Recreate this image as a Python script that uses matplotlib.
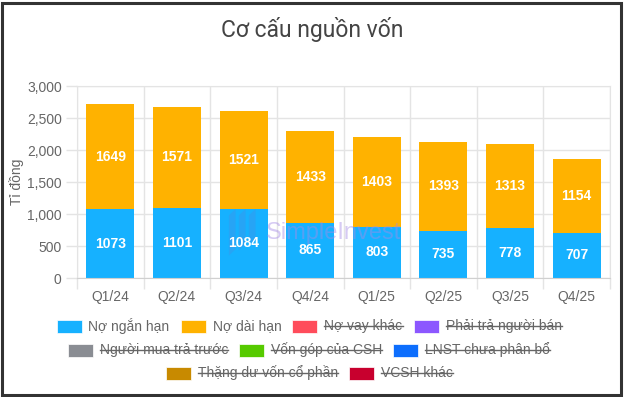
import numpy as np
import matplotlib
matplotlib.use('Agg')
import matplotlib.pyplot as plt
from matplotlib.patches import Rectangle, Polygon

# data
quarters = ['Q1/24', 'Q2/24', 'Q3/24', 'Q4/24', 'Q1/25', 'Q2/25', 'Q3/25', 'Q4/25']
no_ngan_han = [1073, 1101, 1084, 865, 803, 735, 778, 707]
no_dai_han = [1649, 1571, 1521, 1433, 1403, 1393, 1313, 1154]

legend_rows = [
    [('Nợ ngắn hạn', '#16b1ff', False), ('Nợ dài hạn', '#ffb200', False),
     ('Nợ vay khác', '#ff4c5b', True), ('Phải trả người bán', '#8c57ff', True)],
    [('Người mua trả trước', '#8a8d93', True), ('Vốn góp của CSH', '#56ca00', True),
     ('LNST chưa phân bổ', '#0d6efd', True)],
    [('Thặng dư vốn cổ phần', '#c88a00', True), ('VCSH khác', '#c8002e', True)],
]

plt.rcParams['font.family'] = ['Liberation Sans', 'DejaVu Sans']
W, H = 624, 397
fig = plt.figure(figsize=(W / 100, H / 100), dpi=100)

ax = fig.add_axes([77 / W, 1 - 278 / H, (610 - 77) / W, (278 - 86) / H])
x = np.arange(len(quarters))
bw = 0.72
ax.bar(x, no_ngan_han, bw, color='#16b1ff', zorder=2)
ax.bar(x, no_dai_han, bw, bottom=no_ngan_han, color='#ffb200', zorder=2)

for i in range(len(quarters)):
    ax.text(x[i], no_ngan_han[i] / 2, str(no_ngan_han[i]), ha='center', va='center',
            color='white', fontsize=10, fontweight='bold', zorder=4)
    ax.text(x[i], no_ngan_han[i] + no_dai_han[i] / 2, str(no_dai_han[i]), ha='center',
            va='center', color='white', fontsize=10, fontweight='bold', zorder=4)

ax.set_xlim(-0.5, len(quarters) - 0.5)
ax.set_ylim(0, 3000)
ax.set_yticks(np.arange(0, 3001, 500))
ax.set_yticklabels(['{:,}'.format(v) for v in range(0, 3001, 500)])
ax.set_xticks(x)
ax.set_xticklabels(quarters)
ax.set_xticks(np.arange(-0.5, len(quarters)), minor=True)
ax.tick_params(axis='x', which='major', length=0, pad=9, labelsize=10, labelcolor='#666666')
ax.tick_params(axis='x', which='minor', length=8, color='#e4e4e4', width=1)
ax.tick_params(axis='y', length=8, color='#e4e4e4', width=1, pad=3, labelsize=10,
               labelcolor='#666666')
ax.grid(True, axis='y', color='#e4e4e4', lw=1, zorder=0)
ax.grid(True, axis='x', which='minor', color='#e4e4e4', lw=1, zorder=0)
for s in ax.spines.values():
    s.set_color('#e4e4e4')
ax.spines['bottom'].set_color('#d0d0d0')
ax.set_ylabel('Tỉ đồng', fontsize=10, color='#666666', labelpad=2)

# watermark
ax.text(3.35, 700, 'SimpleInvest', ha='center', va='center', fontsize=17,
        color='#a58be6', alpha=0.45, zorder=3)
for k in range(3):
    x0 = 1.78 + k * 0.15
    ax.add_patch(Polygon([(x0, 350 + k * 80), (x0 + 0.1, 450 + k * 80),
                          (x0 + 0.1, 1080), (x0, 980)],
                         closed=True, color='#5a7fd8', alpha=0.25, zorder=3, lw=0))

fig.text(0.5, 1 - 30 / H, 'Cơ cấu nguồn vốn', ha='center', va='center',
         fontsize=16.5, color='#444444', family=['Roboto', 'DejaVu Sans'])

# legend, drawn by hand so the hidden series get struck through
fig.canvas.draw()
r = fig.canvas.get_renderer()
row_y = [326, 350, 373]
box_w, box_h, gap, pad = 25, 13, 7, 11
for row, yc in zip(legend_rows, row_y):
    items = []
    for name, col, hidden in row:
        t = fig.text(0, 0, name, fontsize=10, color='#666666')
        w = t.get_window_extent(r).width
        t.remove()
        items.append((name, col, hidden, w))
    total = sum(box_w + gap + w for _, _, _, w in items) + pad * (len(items) - 1)
    xs = 309 - total / 2
    for name, col, hidden, w in items:
        fig.patches.append(Rectangle((xs / W, 1 - (yc + box_h / 2) / H), box_w / W, box_h / H,
                                     transform=fig.transFigure, facecolor=col,
                                     edgecolor='white', lw=0.5))
        tx = xs + box_w + gap
        fig.text(tx / W, 1 - yc / H, name, fontsize=10, color='#666666', va='center')
        if hidden:
            fig.add_artist(plt.Line2D([tx / W, (tx + w) / W], [1 - yc / H, 1 - yc / H],
                                      transform=fig.transFigure, color='#666666', lw=1))
        xs = tx + w + pad

# outer frame
fig.patches.append(Rectangle((2 / W, 2 / H), (W - 5) / W, (H - 5) / H,
                             transform=fig.transFigure, fill=False,
                             edgecolor='#333333', lw=2.2))

fig.savefig('out.png', dpi=100)
